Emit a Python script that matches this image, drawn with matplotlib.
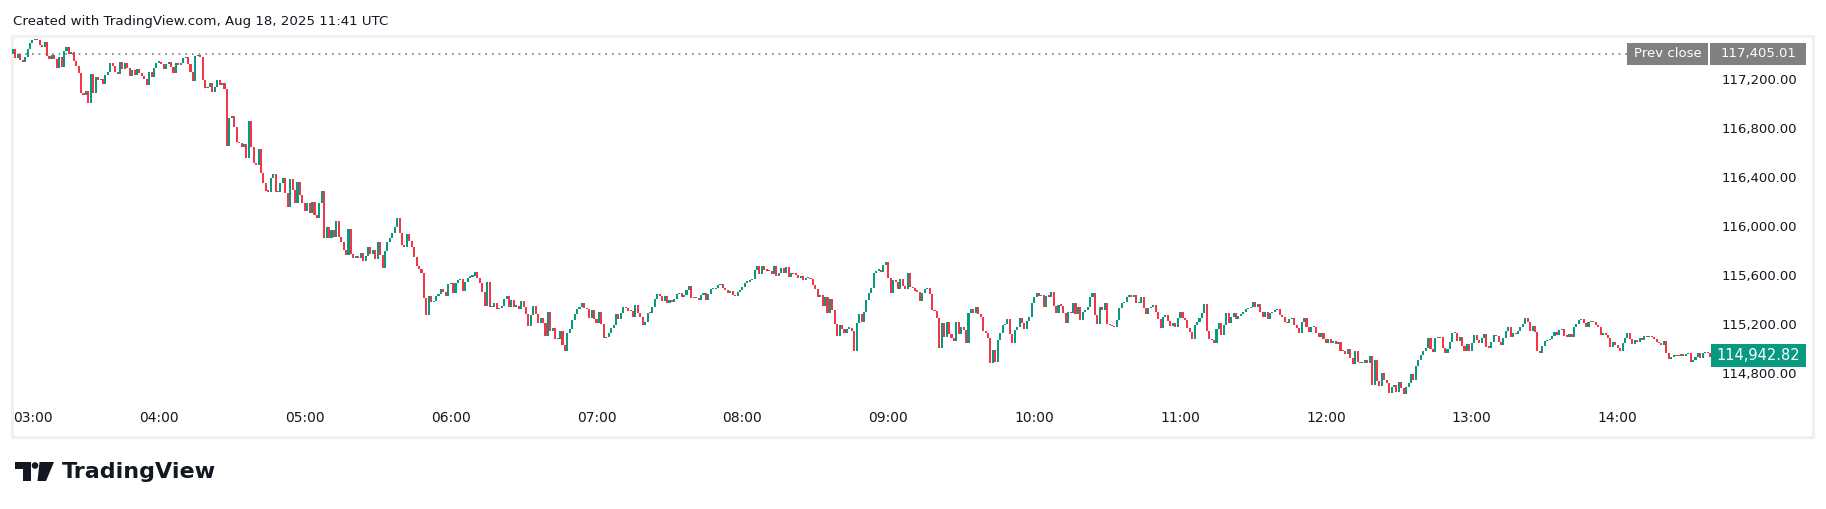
import numpy as np
import matplotlib.pyplot as plt
import matplotlib.transforms as mtransforms
from matplotlib.patches import Rectangle, Polygon, Circle

# -----------------------------------------------------------------------------
# Data: BTCUSD 1-minute closes, 03:00 -> 14:40
# -----------------------------------------------------------------------------
close = [
    117445, 117369, 117404, 117355, 117342, 117382, 117445, 117491, 117518, 117527,
    117518, 117478, 117459, 117505, 117388, 117361, 117396, 117363, 117287, 117382,
    117301, 117431, 117464, 117404, 117423, 117350, 117309, 117252, 117083, 117069,
    117102, 117007, 117238, 117088, 117219, 117192, 117197, 117159, 117233, 117260,
    117333, 117309, 117257, 117238, 117339, 117282, 117333, 117287, 117227, 117273,
    117233, 117282, 117252, 117227, 117197, 117151, 117257, 117219, 117287, 117333,
    117342, 117320, 117282, 117322, 117342, 117295, 117252, 117328, 117314, 117333,
    117371, 117382, 117320, 117260, 117186, 117388, 117390, 117382, 117192, 117124,
    117132, 117165, 117091, 117137, 117192, 117151, 117170, 117116, 116653, 116879,
    116898, 116811, 116688, 116675, 116642, 116669, 116552, 116860, 116648, 116517,
    116501, 116631, 116435, 116354, 116288, 116280, 116389, 116425, 116280, 116275,
    116348, 116389, 116267, 116152, 116384, 116294, 116185,
    # 04:57 ->
    116362, 116253, 116191, 116123, 116185, 116109, 116193, 116090, 116063, 116185,
    116286, 115899, 115995, 115899, 115967, 115908, 116041, 115908, 115872, 115804,
    115763, 115976, 115772, 115742, 115744, 115742, 115782, 115717, 115755, 115831,
    115772, 115804, 115731, 115867, 115763, 115660, 115796, 115872, 115905, 115940,
    115995, 116063, 115946, 115845, 115831, 115935, 115880, 115831, 115750, 115676,
    115646, 115614, 115415, 115274, 115431, 115377, 115391, 115431, 115442, 115486,
    115464, 115429, 115524, 115538, 115456, 115538, 115559, 115567, 115472, 115546,
    115578, 115586, 115595, 115625, 115573, 115538, 115464, 115347, 115546, 115342,
    115336, 115369, 115320, 115328, 115350, 115404, 115431, 115342, 115396, 115342,
    115350, 115323, 115388, 115342, 115279, 115184, 115274, 115347, 115279, 115211,
    115246, 115211, 115102, 115301, 115143, 115165, 115075, 115080, 115146, 115029,
    114982, 115129, 115159, 115233, 115282, 115323, 115336,
    # 06:54 ->
    115369, 115328, 115320, 115252, 115315, 115241, 115211, 115301, 115198, 115083,
    115097, 115124, 115165, 115192, 115282, 115238, 115293, 115342, 115328, 115309,
    115306, 115260, 115355, 115287, 115260, 115192, 115219, 115293, 115290, 115342,
    115404, 115445, 115429, 115391, 115429, 115369, 115396, 115383, 115402, 115445,
    115456, 115418, 115437, 115478, 115511, 115410, 115415, 115410, 115396, 115437,
    115456, 115396, 115445, 115483, 115485, 115491, 115519, 115524, 115491, 115478,
    115456, 115472, 115437, 115429, 115464, 115478, 115505, 115538, 115540, 115559,
    115565, 115641, 115676, 115606, 115674, 115641, 115636, 115630, 115606, 115676,
    115595, 115619, 115655, 115614, 115663, 115587, 115614, 115608, 115603, 115579,
    115592, 115559, 115573, 115579, 115565, 115519, 115483, 115418, 115437, 115347,
    115423, 115293, 115402, 115315, 115198, 115102, 115192, 115157, 115124, 115162,
    115165, 115146, 114983, 115206, 115282, 115219, 115301,
    # 08:51 ->
    115396, 115456, 115491, 115614, 115635, 115641, 115627, 115682, 115703, 115573,
    115456, 115559, 115546, 115483, 115565, 115510, 115483, 115614, 115499, 115491,
    115472, 115464, 115390, 115456, 115483, 115491, 115442, 115314, 115306, 115246,
    115007, 115211, 115097, 115219, 115116, 115083, 115064, 115219, 115116, 115173,
    115151, 115048, 115287, 115320, 115287, 115341, 115279, 115260, 115146, 115124,
    115088, 114884, 114988, 114892, 115069, 115129, 115192, 115197, 115238, 115118,
    115048, 115151, 115173, 115246, 115205, 115159, 115227, 115260, 115369, 115423,
    115450, 115429, 115437, 115341, 115429, 115423, 115464, 115347, 115292, 115355,
    115350, 115292, 115205, 115301, 115287, 115369, 115282, 115341, 115233, 115301,
    115314, 115341, 115423, 115456, 115273, 115200, 115341, 115314, 115369, 115200,
    115192, 115184, 115173, 115233, 115328, 115369, 115382, 115423, 115437, 115423,
    115437, 115369, 115374, 115423, 115328, 115279,
    # 10:47 ->
    115328, 115341, 115355, 115301, 115238, 115170, 115254, 115273, 115227, 115184,
    115211, 115178, 115246, 115295, 115246, 115232, 115164, 115137, 115075, 115192,
    115219, 115252, 115287, 115363, 115145, 115075, 115069, 115047, 115156, 115205,
    115110, 115192, 115287, 115211, 115260, 115287, 115238, 115265, 115281, 115301,
    115320, 115328, 115341, 115382, 115336, 115363, 115301, 115254, 115301, 115238,
    115292, 115298, 115314, 115320, 115273, 115260, 115219, 115205, 115238, 115246,
    115192, 115164, 115129, 115219, 115252, 115173, 115137, 115173, 115178, 115129,
    115096, 115124, 115075, 115047, 115075, 115047, 115061, 115037, 115056, 114982,
    114979, 114955, 114993, 114920, 114873, 114979, 114892, 114879, 114884, 114906,
    114884, 114939, 114702, 114906, 114737, 114694, 114803, 114743, 114715, 114639,
    114688, 114702, 114647, 114729, 114675, 114628, 114683, 114715, 114792, 114743,
    114857, 114906, 114947, 114982, 115001, 115083,
    # 12:43 ->
    114993, 114974, 115089, 115083, 115097, 115001, 114966, 114993, 115056, 115124,
    115129, 115064, 115091, 115023, 114982, 115034, 114982, 115048, 115110, 115069,
    115042, 115083, 115116, 115015, 115007, 115056, 115110, 115102, 115056, 115029,
    115083, 115146, 115178, 115097, 115129, 115118, 115146, 115178, 115200, 115246,
    115219, 115146, 115184, 115138, 114982, 114966, 115021, 115061, 115069, 115075,
    115102, 115132, 115110, 115151, 115157, 115102, 115097, 115118, 115097, 115178,
    115200, 115233, 115238, 115211, 115178, 115219, 115214, 115219, 115192, 115178,
    115110, 115124, 115110, 115083, 115015, 115056, 115029, 115001, 114982, 115048,
    115089, 115124, 115075, 115037, 115069, 115056, 115083, 115069, 115102, 115091,
    115097, 115091, 115075, 115056, 115042, 115029, 115064, 114961, 114912, 114933,
    114939, 114947, 114939, 114955, 114942, 114955, 114961, 114893, 114906,
    114933, 114961, 114920, 114961, 114974, 114961, 114928, 114939, 114943,
]
first_open = 117400.0
prev_close = 117405.01
last_price = 114942.82

hour_labels = ["03:00", "04:00", "05:00", "06:00", "07:00", "08:00",
               "09:00", "10:00", "11:00", "12:00", "13:00", "14:00"]
price_ticks = [117200, 116800, 116400, 116000, 115600, 115200, 114800]

UP = "#089981"
DOWN = "#F23645"
TXT = "#131722"
GREY = "#808080"

# -----------------------------------------------------------------------------
# Figure layout (pixel based)
# -----------------------------------------------------------------------------
W, H = 1826, 509
fig = plt.figure(figsize=(W / 100, H / 100), dpi=100)
fig.patch.set_facecolor("white")


def px(x, y, w, h):
    return [x / W, 1 - (y + h) / H, w / W, h / H]


ax = fig.add_axes(px(12, 36, 1801, 401))

c = np.array(close, dtype=float)
o = np.concatenate([[first_open], c[:-1]])
idx = np.arange(len(c))
up = c >= o
lo = np.minimum(o, c)
hgt = np.maximum(np.abs(c - o), 10)
ax.bar(idx, hgt, bottom=lo, width=0.85, color=np.where(up, UP, DOWN),
       linewidth=0, zorder=3)

ax.set_xlim(-0.414, 740.33)
ax.set_ylim(114277.6, 117551)

# previous close line + labels
ax.axhline(prev_close, xmin=0, xmax=0.8967, color="#787b86", lw=1.2,
           ls=(0, (1, 3)), zorder=2)
trans = mtransforms.blended_transform_factory(ax.transAxes, ax.transData)
ax.add_patch(Rectangle((0.8967, prev_close - 90), 0.0450, 180, transform=trans,
                       facecolor=GREY, edgecolor="none", zorder=5))
ax.add_patch(Rectangle((0.9428, prev_close - 90), 0.0533, 180, transform=trans,
                       facecolor=GREY, edgecolor="none", zorder=5))
ax.text(0.9192, prev_close, "Prev close", transform=trans, ha="center",
        va="center", color="white", fontsize=9.5, zorder=6)
ax.text(0.9695, prev_close, f"{prev_close:,.2f}", transform=trans,
        ha="center", va="center", color="white", fontsize=9.5, zorder=6)

# last price label
ax.add_patch(Rectangle((0.9434, last_price - 90), 0.0527, 180, transform=trans,
                       facecolor=UP, edgecolor="none", zorder=5))
ax.text(0.9697, last_price, f"{last_price:,.2f}", transform=trans,
        ha="center", va="center", color="white", fontsize=10.5, zorder=6)

# axes / ticks
ax.set_xticks([60 * k for k in range(len(hour_labels))])
ax.set_xticklabels(hour_labels)
ax.tick_params(axis="x", length=0, pad=-19, labelsize=10, labelcolor=TXT)
ax.get_xticklabels()[0].set_horizontalalignment("left")

ax.set_yticks(price_ticks)
ax.set_yticklabels([f"{v:,.2f}" for v in price_ticks])
ax.yaxis.tick_right()
ax.tick_params(axis="y", length=0, pad=-11.5, labelsize=9.5, labelcolor=TXT)
for lbl in ax.get_yticklabels():
    lbl.set_horizontalalignment("right")

for s in ax.spines.values():
    s.set_color("#f0f0f0")
    s.set_linewidth(2.2)

# header
fig.text(13 / W, 1 - 22 / H, "Created with TradingView.com, Aug 18, 2025 11:41 UTC",
         va="center", ha="left", fontsize=9.6, color=TXT)

# TradingView logo (bottom left)
lax = fig.add_axes([0, 0, 1, 1], zorder=-1)
lax.set_xlim(0, W)
lax.set_ylim(H, 0)
lax.axis("off")
lax.add_patch(Polygon([(15, 462), (31, 462), (31, 481), (23, 481), (23, 469), (15, 469)],
                      closed=True, facecolor=TXT, edgecolor="none"))
lax.add_patch(Circle((35, 465.5), 3.3, facecolor=TXT, edgecolor="none"))
lax.add_patch(Polygon([(39.5, 462), (54, 462), (46, 481), (37.5, 481)],
                      closed=True, facecolor=TXT, edgecolor="none"))
lax.text(62, 471.5, "TradingView", ha="left", va="center", fontsize=16,
         fontweight="bold", color=TXT)

fig.savefig("out.png", dpi=100)
